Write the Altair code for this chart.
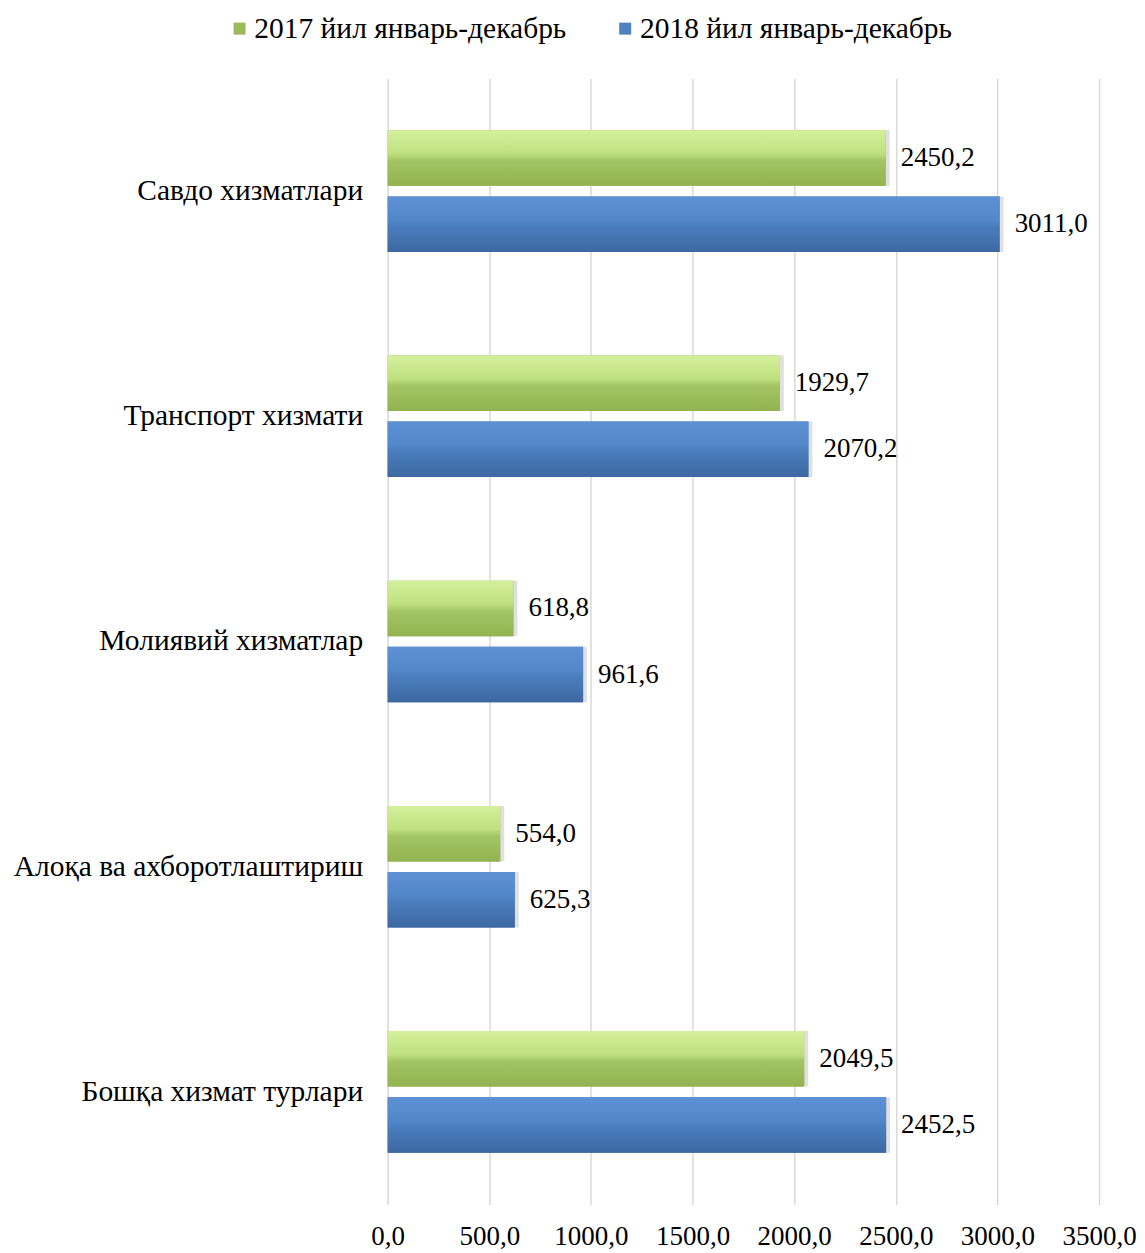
import altair as alt
import pandas as pd

categories = ["Савдо хизматлари", "Транспорт хизмати", "Молиявий хизматлар",
              "Алоқа ва ахборотлаштириш", "Бошқа хизмат турлари"]
series = ["2017 йил январь-декабрь", "2018 йил январь-декабрь"]
values_2017 = [2450.2, 1929.7, 618.8, 554.0, 2049.5]
values_2018 = [3011.0, 2070.2, 961.6, 625.3, 2452.5]
x_ticks = [0, 500, 1000, 1500, 2000, 2500, 3000, 3500]
colors = ["#9bbb59", "#4f81bd"]

rows = []
for c, v in zip(categories, values_2017):
    rows.append({"cat": c, "series": series[0], "value": v})
for c, v in zip(categories, values_2018):
    rows.append({"cat": c, "series": series[1], "value": v})
df = pd.DataFrame(rows)
df["label"] = df["value"].map(lambda v: f"{v:.1f}".replace(".", ","))

FONT = "Liberation Serif"

y_enc = alt.Y("cat:N", sort=categories, title=None,
              scale=alt.Scale(paddingInner=0.46, paddingOuter=0.23),
              axis=alt.Axis(labelFontSize=29.5, labelFont=FONT, labelColor="#000000",
                            labelPadding=25, ticks=False, domain=False, labelLimit=600))
yoff = alt.YOffset("series:N", sort=series,
                   scale=alt.Scale(domain=series, paddingInner=0.16))
x_enc = alt.X("value:Q", title=None,
              scale=alt.Scale(domain=[0, 3500], nice=False),
              axis=alt.Axis(values=x_ticks, labelFontSize=27, labelFont=FONT,
                            labelColor="#000000", labelPadding=19, ticks=False,
                            domain=False, grid=True, gridColor="#d9d9d9",
                            gridWidth=1.5, labelOverlap=False, labelFlush=False,
                            labelExpr="replace(format(datum.value, '.1f'), '.', ',')"))

base = alt.Chart(df)

shadow = base.mark_bar(color="#000000", opacity=0.12, xOffset=4).encode(
    x=x_enc, y=y_enc, yOffset=yoff)

legend_bars = base.mark_bar().encode(
    x=x_enc, y=y_enc, yOffset=yoff,
    color=alt.Color("series:N", sort=series,
                    scale=alt.Scale(domain=series, range=colors),
                    legend=alt.Legend(title=None, orient="none", direction="horizontal",
                                      legendX=-163, legendY=-65,
                                      symbolType="square", symbolSize=144,
                                      symbolStrokeWidth=0,
                                      labelFontSize=29.5, labelFont=FONT,
                                      labelColor="#000000", columnPadding=44,
                                      labelOffset=0,
                                      labelLimit=600)))

green_grad = alt.Gradient(
    gradient="linear", x1=0, x2=0, y1=0, y2=1,
    stops=[alt.GradientStop(color="#d4f09c", offset=0),
           alt.GradientStop(color="#c0e07f", offset=0.42),
           alt.GradientStop(color="#a3c462", offset=0.55),
           alt.GradientStop(color="#93b351", offset=1)])
blue_grad = alt.Gradient(
    gradient="linear", x1=0, x2=0, y1=0, y2=1,
    stops=[alt.GradientStop(color="#5d91d3", offset=0),
           alt.GradientStop(color="#5287ca", offset=0.42),
           alt.GradientStop(color="#4a7dbd", offset=0.55),
           alt.GradientStop(color="#3d68a2", offset=1)])

green = base.transform_filter(alt.datum.series == series[0]).mark_bar(color=green_grad).encode(
    x=x_enc, y=y_enc, yOffset=yoff)
blue = base.transform_filter(alt.datum.series == series[1]).mark_bar(color=blue_grad).encode(
    x=x_enc, y=y_enc, yOffset=yoff)

labels = base.mark_text(align="left", baseline="middle", dx=15, fontSize=27,
                        font=FONT, color="#000000").encode(
    x=x_enc, y=y_enc, yOffset=yoff, text="label:N")

chart = alt.layer(shadow, legend_bars, green, blue, labels).properties(
    width=712, height=1127, background="#ffffff",
    padding={"left": 5, "top": 5, "right": 0, "bottom": 0}
).configure_view(strokeWidth=0)

chart.save("out.html", embed_options={"renderer": "svg", "actions": False})
